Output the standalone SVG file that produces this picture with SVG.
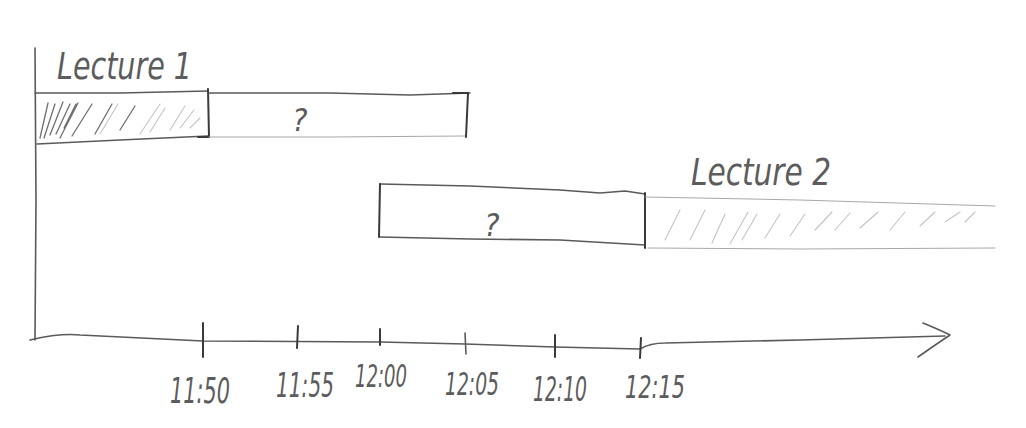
<svg xmlns="http://www.w3.org/2000/svg" width="1026" height="428" viewBox="0 0 1026 428">
<style>
.p{fill:none;stroke:#5a5a5a;stroke-width:1.6;stroke-linecap:round;stroke-linejoin:round}
.d{fill:none;stroke:#3a3a3a;stroke-width:2;stroke-linecap:round}
.l{fill:none;stroke:#a8a8a8;stroke-width:1.1;stroke-linecap:round}
.h{fill:none;stroke:#707070;stroke-width:1.3;stroke-linecap:round}
.hl{fill:none;stroke:#c4c4c4;stroke-width:1.1;stroke-linecap:round}
.t{font-family:"DejaVu Sans Condensed","DejaVu Sans",sans-serif;fill:#5c5c5c;font-style:oblique}
</style>
<rect width="1026" height="428" fill="#fff"/>
<g id="axes">
<path class="p" d="M35 48 L36 200 L35 340"/>
<path class="p" d="M30 340 Q60 333 80 335 L203 341 L380 342 L465 344 L555 347 L640 349 Q650 343 665 343 L800 340 L945 336"/>
<path class="p" d="M923 323 Q940 330 950 335 Q935 345 918 357"/>
</g>
<g id="ticks">
<path class="d" d="M203 323 L203 357"/>
<path class="d" d="M298 326 L297 348"/>
<path class="d" d="M380 329 L380 345"/>
<path class="p" d="M465 333 L466 354"/>
<path class="d" d="M555 335 L555 357"/>
<path class="d" d="M641 338 L640 358"/>
</g>
<g id="tick-labels" class="t" font-size="24" text-anchor="middle">
<text transform="translate(200 403) scale(1 1.5)" textLength="60" lengthAdjust="spacingAndGlyphs">11:50</text>
<text transform="translate(305 397) scale(1 1.4)" textLength="58" lengthAdjust="spacingAndGlyphs">11:55</text>
<text transform="translate(381 387) scale(1 1.3)" textLength="52" lengthAdjust="spacingAndGlyphs">12:00</text>
<text transform="translate(472 395) scale(1 1.35)" textLength="54" lengthAdjust="spacingAndGlyphs">12:05</text>
<text transform="translate(560 401) scale(1 1.4)" textLength="54" lengthAdjust="spacingAndGlyphs">12:10</text>
<text transform="translate(655 398) scale(1 1.35)" textLength="60" lengthAdjust="spacingAndGlyphs">12:15</text>
</g>
<g id="lecture1">
<text class="t" transform="translate(57 79) scale(1 1.3)" font-size="28" textLength="135" lengthAdjust="spacingAndGlyphs">Lecture 1</text>
<path class="p" d="M35 93 L120 93 L208 91"/>
<path class="p" d="M37 144 L120 140 L208 136"/>
<path class="d" d="M208 89 L209 137 L198 137"/>
<path class="h" d="M40 138 L48 103 M44 138 L55 104 M50 135 L63 102 M56 134 L70 104 M64 128 L76 104 M60 138 L78 103"/>
<path class="h" d="M72 136 L92 104 M95 134 L112 104 M120 130 L135 106"/>
<path class="hl" d="M100 134 L118 104 M140 134 L160 104 M150 132 L165 108 M170 130 L185 106 M180 128 L194 110 M190 128 L200 118"/>
</g>
<g id="gap1">
<path class="p" d="M209 93 L330 93 L410 95 L470 93"/>
<path class="l" d="M209 137 L330 137 L465 136"/>
<path class="d" d="M453 93 L468 93 L466 137"/>
<text class="t" x="300" y="131" font-size="32" text-anchor="middle">?</text>
</g>
<g id="gap2">
<path class="p" d="M380 184 L470 186 L560 190 L600 193 L625 191 L645 194"/>
<path class="p" d="M380 237 L470 239 L560 240 L645 245"/>
<path class="d" d="M380 184 L379 237"/>
<path class="d" d="M645 193 L645 248"/>
<text class="t" x="492" y="236" font-size="32" text-anchor="middle">?</text>
</g>
<g id="lecture2">
<text class="t" transform="translate(691 185) scale(1 1.35)" font-size="28" textLength="140" lengthAdjust="spacingAndGlyphs">Lecture 2</text>
<path class="l" d="M645 197 L800 200 L995 206"/>
<path class="l" d="M648 248 L800 249 L995 248"/>
<path class="hl" d="M665 240 L680 210 M690 240 L705 210 M712 243 L725 214 M730 244 L748 212 M742 240 L757 214 M765 238 L780 214 M790 236 L805 214 M815 230 L832 212 M835 230 L850 213 M860 228 L878 212 M890 230 L905 212 M920 226 L935 212 M945 222 L960 212 M965 222 L975 212"/>
</g>
</svg>
